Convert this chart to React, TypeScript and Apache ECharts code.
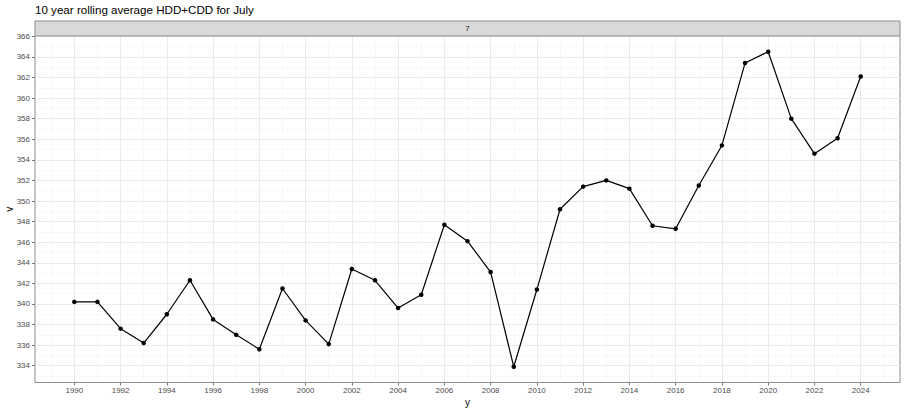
import React, { useEffect, useRef } from "react";
import * as echarts from "echarts";

const years: number[] = [
  1990, 1991, 1992, 1993, 1994, 1995, 1996, 1997, 1998, 1999,
  2000, 2001, 2002, 2003, 2004, 2005, 2006, 2007, 2008, 2009,
  2010, 2011, 2012, 2013, 2014, 2015, 2016, 2017, 2018, 2019,
  2020, 2021, 2022, 2023, 2024,
];
const values: number[] = [
  340.2, 340.2, 337.6, 336.2, 339.0, 342.3, 338.5, 337.0, 335.6, 341.5,
  338.4, 336.1, 343.4, 342.3, 339.6, 340.9, 347.7, 346.1, 343.1, 333.9,
  341.4, 349.2, 351.4, 352.0, 351.2, 347.6, 347.3, 351.5, 355.4, 363.4,
  364.5, 358.0, 354.6, 356.1, 362.1,
];
const xTicks: number[] = [
  1990, 1992, 1994, 1996, 1998, 2000, 2002, 2004, 2006, 2008, 2010, 2012,
  2014, 2016, 2018, 2020, 2022, 2024,
];
const yTicks: number[] = [
  334, 336, 338, 340, 342, 344, 346, 348, 350, 352, 354, 356, 358, 360, 362,
  364, 366,
];
const titleText = "10 year rolling average HDD+CDD for July";
const stripText = "7";
const xName = "y";
const yName = "v";

const FONT = "Liberation Sans, Arial, sans-serif";

export default function App() {
  const ref = useRef<HTMLDivElement>(null);
  useEffect(() => {
    if (!ref.current) return;
    const chart = echarts.init(ref.current, null, { renderer: "svg" });
    const xr = [Math.min(...years), Math.max(...years)];
    const yr = [Math.min(...values), Math.max(...values)];
    const xe = (xr[1] - xr[0]) * 0.05;
    const ye = (yr[1] - yr[0]) * 0.05;
    const L = 35, R = 5, T = 36, B = 29.5;
    const W = 905, H = 412;
    chart.setOption({
      animation: false,
      backgroundColor: "#ffffff",
      textStyle: { fontFamily: FONT },
      title: {
        text: titleText,
        left: 35,
        top: 3,
        padding: 0,
        textStyle: { fontSize: 11.6, fontWeight: "normal", color: "#000000", fontFamily: FONT },
      },
      grid: {
        left: L, right: R, top: T, bottom: B,
        containLabel: false,
        outerBoundsMode: "none",
        show: true, borderColor: "#8c8c8c", borderWidth: 1, backgroundColor: "transparent",
      },
      xAxis: {
        type: "value",
        min: xr[0] - xe,
        max: xr[1] + xe,
        splitNumber: 18,
        name: xName,
        nameLocation: "middle",
        nameGap: 15,
        nameMoveOverlap: false,
        nameTextStyle: { fontSize: 10, color: "#000000", fontFamily: FONT },
        axisLine: { show: false },
        axisTick: { show: true, length: 3, lineStyle: { color: "#555555", width: 0.8 }, customValues: xTicks },
        axisLabel: {
          customValues: xTicks,
          fontSize: 8, color: "#4d4d4d", margin: 4, fontFamily: FONT,
          formatter: (v: number) => (Number.isInteger(v) ? String(v) : ""),
        },
        splitLine: { show: true, lineStyle: { color: "#ebebeb", width: 1 } },
        minorTick: { show: false, splitNumber: 2 },
        minorSplitLine: { show: true, lineStyle: { color: "#f3f3f3", width: 0.6 } },
      },
      yAxis: {
        type: "value",
        min: yr[0] - ye,
        max: yr[1] + ye,
        splitNumber: 17,
        axisLine: { show: false },
        axisTick: { show: true, length: 3, lineStyle: { color: "#555555", width: 0.8 }, customValues: yTicks },
        axisLabel: {
          customValues: yTicks,
          fontSize: 8, color: "#4d4d4d", margin: 5, fontFamily: FONT,
          formatter: (v: number) => (Number.isInteger(v) ? String(v) : ""),
        },
        splitLine: { show: true, lineStyle: { color: "#ebebeb", width: 1 } },
        minorTick: { show: false, splitNumber: 2 },
        minorSplitLine: { show: true, lineStyle: { color: "#f3f3f3", width: 0.6 } },
      },
      graphic: [
        {
          type: "rect",
          shape: { x: L, y: 21, width: W - L - R, height: T - 21 },
          style: { fill: "#d9d9d9", stroke: "#8c8c8c", lineWidth: 1 },
          z: 10,
        },
        {
          type: "text",
          x: (L + W - R) / 2,
          y: (21 + T) / 2,
          style: {
            text: stripText, fill: "#1a1a1a", fontSize: 8, fontFamily: FONT,
            align: "center", verticalAlign: "middle",
          },
          z: 11,
        },
        {
          type: "text",
          x: 9,
          y: (T + H - B) / 2,
          rotation: Math.PI / 2,
          style: {
            text: yName, fill: "#000000", fontSize: 10, fontFamily: FONT,
            align: "center", verticalAlign: "middle",
          },
          z: 11,
        },
      ],
      series: [
        {
          type: "line",
          data: years.map((y, i) => [y, values[i]]),
          symbol: "circle",
          symbolSize: 4.5,
          showSymbol: true,
          itemStyle: { color: "#000000" },
          lineStyle: { color: "#000000", width: 1.2 },
          z: 5,
        },
      ],
    });
    return () => chart.dispose();
  }, []);
  return (
    <div
      ref={ref}
      style={{ position: "absolute", left: 0, top: 0, width: 905, height: 412 }}
    />
  );
}
